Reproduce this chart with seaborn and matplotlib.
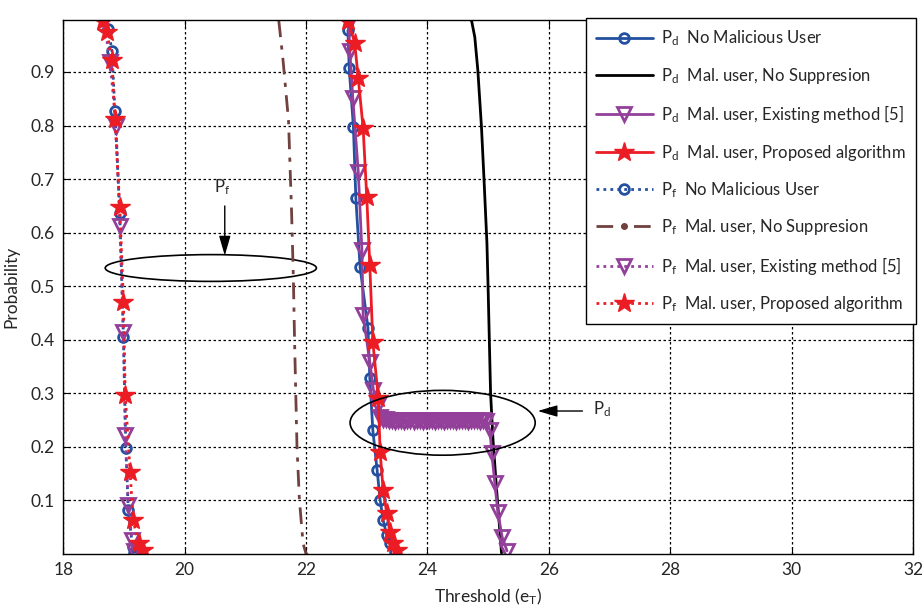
import numpy as np
import pandas as pd
import matplotlib.pyplot as plt
import seaborn as sns
from matplotlib.patches import Ellipse
from matplotlib.lines import Line2D

# --- style ---
sns.set_style("ticks")
plt.rcParams['font.family'] = ['Lato', 'DejaVu Sans']
plt.rcParams['mathtext.default'] = 'regular'

# --- data (threshold vs probability) ---
# Pd curves
pd_nomal_x = [22.69, 22.71, 22.78, 22.82, 22.89, 23.02, 23.05, 23.10, 23.17, 23.22, 23.27, 23.33, 23.38, 23.47]
pd_nomal_y = [0.978, 0.907, 0.797, 0.664, 0.535, 0.422, 0.328, 0.231, 0.157, 0.101, 0.063, 0.035, 0.021, 0.004]

pd_nosup_x = [24.71, 24.73, 24.78, 24.83, 24.89, 24.93, 24.98, 25.00, 25.04, 25.08, 25.14, 25.22]
pd_nosup_y = [1.0, 0.994, 0.965, 0.903, 0.797, 0.704, 0.580, 0.493, 0.300, 0.213, 0.119, 0.002]

pd_exist_x = [22.70, 22.72, 22.77, 22.86, 22.92, 22.94, 23.05, 23.11, 23.19,
              23.22, 23.27, 23.32, 23.37, 23.42, 23.47, 23.52, 23.57, 23.62, 23.67,
              23.72, 23.77, 23.82, 23.87, 23.92, 23.97, 24.02, 24.07, 24.12, 24.17,
              24.22, 24.27, 24.32, 24.37, 24.42, 24.47, 24.52, 24.57, 24.62, 24.67,
              24.72, 24.77, 24.82, 24.87, 24.92, 24.97,
              25.03, 25.06, 25.11, 25.16, 25.23, 25.31]
pd_exist_y = [0.991, 0.940, 0.851, 0.713, 0.567, 0.446, 0.358, 0.306, 0.278,
              0.255, 0.253, 0.252, 0.250, 0.251, 0.249, 0.250, 0.251, 0.249, 0.250,
              0.250, 0.249, 0.251, 0.250, 0.249, 0.250, 0.251, 0.250, 0.249, 0.250,
              0.250, 0.249, 0.251, 0.250, 0.250, 0.249, 0.250, 0.251, 0.250, 0.249,
              0.250, 0.251, 0.250, 0.249, 0.250, 0.248,
              0.231, 0.188, 0.132, 0.078, 0.032, 0.006]

pd_prop_x = [22.69, 22.80, 22.86, 22.94, 23.00, 23.05, 23.10, 23.19, 23.22, 23.27, 23.33, 23.38, 23.43, 23.50]
pd_prop_y = [0.996, 0.955, 0.888, 0.795, 0.666, 0.539, 0.396, 0.291, 0.190, 0.119, 0.076, 0.041, 0.021, 0.007]

# Pf curves
pf_nomal_x = [18.74, 18.80, 18.85, 18.93, 18.99, 19.03, 19.07, 19.14, 19.17]
pf_nomal_y = [0.981, 0.940, 0.828, 0.636, 0.405, 0.198, 0.082, 0.013, 0.002]

pf_nosup_x = [21.55, 21.62, 21.71, 21.76, 21.79, 21.81, 21.85, 21.89, 21.95, 22.00]
pf_nosup_y = [0.996, 0.922, 0.810, 0.642, 0.517, 0.399, 0.200, 0.101, 0.020, 0.0]

pf_exist_x = [18.67, 18.77, 18.87, 18.93, 18.99, 19.02, 19.07, 19.13, 19.17]
pf_exist_y = [0.996, 0.918, 0.800, 0.612, 0.414, 0.222, 0.091, 0.026, 0.006]

pf_prop_x = [18.65, 18.72, 18.80, 18.85, 18.93, 18.99, 19.02, 19.10, 19.15, 19.24, 19.32]
pf_prop_y = [0.996, 0.974, 0.922, 0.813, 0.647, 0.470, 0.297, 0.153, 0.063, 0.020, 0.007]

labels = [
    r"P$_\mathregular{d}$  No Malicious User",
    r"P$_\mathregular{d}$  Mal. user, No Suppresion",
    r"P$_\mathregular{d}$  Mal. user, Existing method [5]",
    r"P$_\mathregular{d}$  Mal. user, Proposed algorithm",
    r"P$_\mathregular{f}$  No Malicious User",
    r"P$_\mathregular{f}$  Mal. user, No Suppresion",
    r"P$_\mathregular{f}$  Mal. user, Existing method [5]",
    r"P$_\mathregular{f}$  Mal. user, Proposed algorithm",
]

BLUE = "#2350a0"
BLACK = "#000000"
PURPLE = "#93409a"
RED = "#ec1c24"
BROWN = "#70413f"

DOT = (0, (1, 1.5))
series = [
    (pd_nomal_x, pd_nomal_y, dict(color=BLUE, ls="-", marker="o", ms=7, mfc="none", mec=BLUE, mew=2, lw=2)),
    (pd_nosup_x, pd_nosup_y, dict(color=BLACK, ls="-", marker=None, lw=2)),
    (pd_exist_x, pd_exist_y, dict(color=PURPLE, ls="-", marker="v", ms=10, mfc="none", mec=PURPLE, mew=2, lw=2)),
    (pd_prop_x, pd_prop_y, dict(color=RED, ls="-", marker="*", ms=15, mfc=RED, mec=RED, mew=1, lw=2)),
    (pf_nomal_x, pf_nomal_y, dict(color=BLUE, ls=DOT, marker="o", ms=7, mfc="none", mec=BLUE, mew=2, lw=2)),
    (pf_nosup_x, pf_nosup_y, dict(color=BROWN, ls=(0, (6, 3, 1.5, 3)), marker=".", ms=4, mfc=BROWN,
                                  mec=BROWN, markevery=[-1], lw=2)),
    (pf_exist_x, pf_exist_y, dict(color=PURPLE, ls=DOT, marker="v", ms=10, mfc="none", mec=PURPLE, mew=2, lw=2)),
    (pf_prop_x, pf_prop_y, dict(color=RED, ls=DOT, marker="*", ms=15, mfc=RED, mec=RED, mew=1, lw=2)),
]

fig = plt.figure(figsize=(9.22, 6.07), dpi=100)
ax = fig.add_axes([0.0687, 0.0873, 0.9215, 0.8797])

handles = []
for (xs, ys, kw), lab in zip(series, labels):
    df = pd.DataFrame({"x": xs, "y": ys})
    sns.lineplot(data=df, x="x", y="y", sort=False, estimator=None, ax=ax, **kw)
    hkw = dict(kw)
    hkw.pop("markevery", None)
    if hkw.get("marker") == ".":
        hkw["ms"] = 8
    handles.append(Line2D([], [], **hkw))

# annotations
ax.add_patch(Ellipse((20.43, 0.534), 3.48, 0.05, fill=False, ec="black", lw=1.2))
ax.add_patch(Ellipse((24.25, 0.245), 3.05, 0.121, fill=False, ec="black", lw=1.2, zorder=5))
ax.annotate("", xy=(20.66, 0.552), xytext=(20.66, 0.655),
            arrowprops=dict(arrowstyle="-|>,head_width=0.35,head_length=1.2", color="black", lw=1))
ax.text(20.62, 0.685, r"P$_\mathregular{f}$", ha="center", va="center", fontsize=12)
ax.annotate("", xy=(25.77, 0.267), xytext=(26.6, 0.267),
            arrowprops=dict(arrowstyle="-|>,head_width=0.35,head_length=1.2", color="black", lw=1))
ax.text(26.72, 0.270, r"P$_\mathregular{d}$", ha="left", va="center", fontsize=12)

ax.set_xlim(18, 32)
ax.set_ylim(0, 0.997)
ax.set_xticks(np.arange(18, 33, 2))
ax.set_yticks([0.1, 0.2, 0.3, 0.4, 0.5, 0.6, 0.7, 0.8, 0.9])
ax.set_yticklabels(["0.1", "0.2", "0.3", "0.4", "0.5", "0.6", "0.7", "0.8", "0.9"])
ax.tick_params(direction="in", top=True, right=True, labelsize=12.5, length=5, color="black", pad=6)
ax.grid(True, color="black", linestyle=(0, (2, 2)), linewidth=0.9)
for s in ax.spines.values():
    s.set_color("black")
    s.set_linewidth(1)

ax.set_xlabel(r"Threshold (e$_\mathregular{T}$)", fontsize=12.5, labelpad=6)
ax.set_ylabel("Probability", fontsize=12.5, labelpad=8)

leg = ax.legend(handles, labels, loc="upper right", bbox_to_anchor=(1.003, 1.003),
                borderaxespad=0, fontsize=12, handlelength=3.4, labelspacing=1.05,
                frameon=True, fancybox=False, framealpha=1, edgecolor="black",
                borderpad=0.6, handletextpad=0.5)
leg.get_frame().set_linewidth(1)

fig.savefig("out.png", dpi=100)
